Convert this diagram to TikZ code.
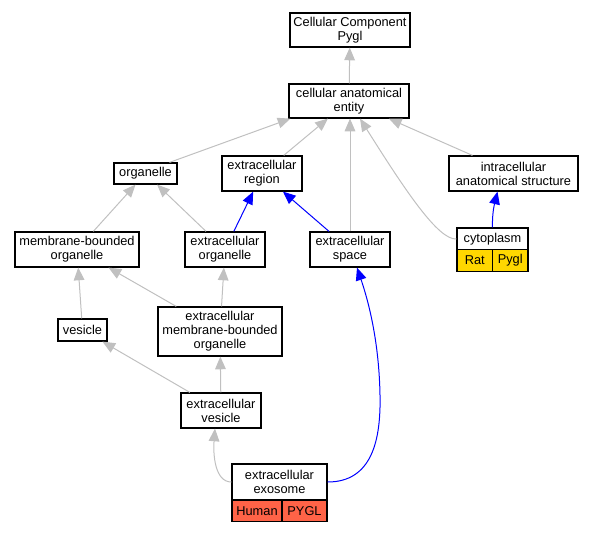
\documentclass[tikz,border=0pt]{standalone}
\usepackage{fontspec}
\setmainfont{Liberation Sans}
\usepackage{xcolor}
\usepackage{tikz}
\usetikzlibrary{positioning,calc,arrows.meta}

\definecolor{isagray}{HTML}{C0C0C0}
\definecolor{ratgold}{HTML}{FFD700}
\definecolor{humanred}{HTML}{FF6347}

\begin{document}
\begin{tikzpicture}[x=0.75pt,y=-0.75pt,
		termbox/.style={draw=black, line width=0.9pt, inner sep=0pt, align=center,
			font=\fontsize{9.6}{10.5}\selectfont},
		cellbox/.style={termbox, minimum height=16pt},
		isa/.style={draw=isagray, line width=0.75pt, -{Triangle[length=9.5pt,width=8pt]}},
		partof/.style={draw=blue, line width=0.75pt, -{Triangle[length=9.5pt,width=8pt]}}]
			\useasboundingbox (0,0) rectangle (593,533);
			
			% các thuật ngữ
			\node[termbox, minimum width=90pt, minimum height=25.5pt] (ccp) at (350,30) {Cellular Component\\Pygl};
			\node[termbox, minimum width=90pt, minimum height=25.5pt] (cae) at (349,101) {cellular anatomical\\entity};
			\node[termbox, minimum width=47.25pt, minimum height=15.75pt] (organelle) at (145.5,173.5) {organelle};
			\node[termbox, minimum width=60pt, minimum height=26.25pt] (eregion) at (262,173.5) {extracellular\\region};
			\node[termbox, minimum width=96.75pt, minimum height=26.25pt] (intra) at (513.5,173.5) {intracellular\\anatomical structure};
			\node[termbox, minimum width=93pt, minimum height=26.25pt] (mbo) at (77,249.5) {membrane-bounded\\organelle};
			\node[termbox, minimum width=60pt, minimum height=26.25pt] (eorganelle) at (225,249.5) {extracellular\\organelle};
			\node[termbox, minimum width=60pt, minimum height=26.25pt] (espace) at (350,249.5) {extracellular\\space};
			\node[termbox, minimum width=36.75pt, minimum height=16.5pt] (vesicle) at (82.5,330) {vesicle};
			\node[termbox, minimum width=93pt, minimum height=36.75pt] (embo) at (220,331.5) {extracellular\\membrane-bounded\\organelle};
			\node[termbox, minimum width=60pt, minimum height=26.25pt] (evesicle) at (221,410.5) {extracellular\\vesicle};
			
			% cytoplasm với bảng Rat | Pygl
			\node[termbox, minimum width=53.25pt, minimum height=16.5pt] (cyto) at (492.5,239) {cytoplasm};
			\node[cellbox, fill=ratgold, minimum width=26.6pt] (cytoRat) at (474.75,260.5) {Rat};
			\node[cellbox, fill=ratgold, minimum width=26.6pt] (cytoPygl) at (510.25,260.5) {Pygl};
			
			% extracellular exosome với bảng Human | PYGL
			\node[termbox, minimum width=71.25pt, minimum height=27pt] (exo) at (279.5,482) {extracellular\\exosome};
			\node[cellbox, fill=humanred, minimum width=37.5pt] (exoHuman) at (257,511) {Human};
			\node[cellbox, fill=humanred, minimum width=33.75pt] (exoPygl) at (304.5,511) {PYGL};
			
			% mũi tên xám (is a)
			\draw[isa] (cae) -- (ccp);
			\draw[isa] ($(organelle.north)+(24,0)$) -- ($(cae.south west)+(2,0)$);
			\draw[isa] (eregion) -- (cae);
			\draw[isa] (espace.north) -- (espace.north |- cae.south);
			\draw[isa] (cyto.west) .. controls (438,240) and (405,190) .. ($(cae.south)+(11,0)$);
			\draw[isa] (intra) -- (cae);
			\draw[isa] (mbo) -- (organelle);
			\draw[isa] (eorganelle) -- (organelle);
			\draw[isa] (vesicle) -- (mbo);
			\draw[isa] (embo) -- (mbo);
			\draw[isa] (embo) -- (eorganelle);
			\draw[isa] (evesicle) -- (vesicle);
			\draw[isa] (evesicle) -- (embo);
			\draw[isa] (exo.west) .. controls (215,482) and (213,455) .. ($(evesicle.south)+(-6,0)$);
			
			% mũi tên xanh (part of)
			\draw[partof] (eorganelle) -- (eregion);
			\draw[partof] (espace) -- (eregion);
			\draw[partof] (cyto.north) .. controls (492,212) and (495,202) .. ($(intra.south)+(-16,0)$);
			\draw[partof] (exo.east) .. controls (372,482) and (381,440) .. (380,395)
				.. controls (379,340) and (368,300) .. ($(espace.south)+(7,0)$);
		\end{tikzpicture}
\end{document}
